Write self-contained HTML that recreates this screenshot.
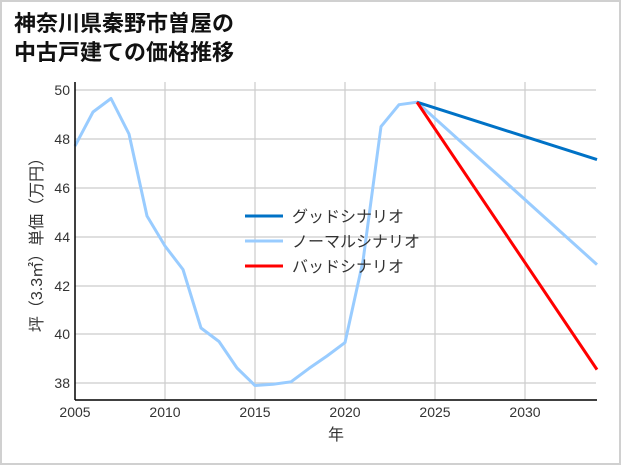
<!DOCTYPE html>
<html><head><meta charset="utf-8"><style>
html,body{margin:0;padding:0;background:#fff}
body{width:621px;height:465px;overflow:hidden}
svg text{font-family:"Liberation Sans","Noto Sans CJK JP",sans-serif}
</style></head><body>
<svg width="621" height="465" viewBox="0 0 621 465" xmlns="http://www.w3.org/2000/svg">
<rect x="1" y="1" width="619" height="463" fill="#fff" stroke="#d0d0d0" stroke-width="2"/>
<text x="14" y="31" font-size="22" font-weight="bold" fill="#111" font-family="Noto Sans CJK JP, sans-serif">神奈川県秦野市曽屋の</text>
<text x="14" y="60" font-size="22" font-weight="bold" fill="#111" font-family="Noto Sans CJK JP, sans-serif">中古戸建ての価格推移</text>
<g stroke="#cccccc" stroke-width="1.2">
<line x1="165" y1="82" x2="165" y2="400"/><line x1="255" y1="82" x2="255" y2="400"/>
<line x1="345" y1="82" x2="345" y2="400"/><line x1="435" y1="82" x2="435" y2="400"/>
<line x1="525" y1="82" x2="525" y2="400"/>
<line x1="75" y1="90" x2="596" y2="90"/><line x1="75" y1="139" x2="596" y2="139"/>
<line x1="75" y1="188" x2="596" y2="188"/><line x1="75" y1="237" x2="596" y2="237"/>
<line x1="75" y1="286" x2="596" y2="286"/><line x1="75" y1="334" x2="596" y2="334"/>
<line x1="75" y1="383" x2="596" y2="383"/>
</g>
<g fill="none" stroke-width="3" stroke-linejoin="round">
<polyline stroke="#99ccff" points="75,146 93,112 111,98.5 129,134 147,216 165,246 183,269.5 201,328 219,341.5 237,368 255,385.5 273,384.3 291,381.8 309,368.4 327,356 345,342.6 363,261 381,126.6 399,104.7 417,102.2 597,264.6"/>
<polyline stroke="#0072c6" points="417,102.2 597,159.6"/>
<polyline stroke="#ff0000" points="417,102.2 597,369.6"/>
</g>
<line x1="75" y1="82" x2="75" y2="400" stroke="#000" stroke-width="1.5"/>
<line x1="75" y1="400" x2="597" y2="400" stroke="#000" stroke-width="1.5"/>
<g font-size="14" fill="#333" text-anchor="end">
<text x="70" y="95">50</text><text x="70" y="144">48</text><text x="70" y="193">46</text>
<text x="70" y="242">44</text><text x="70" y="291">42</text><text x="70" y="339">40</text>
<text x="70" y="388">38</text>
</g>
<g font-size="14" fill="#333" text-anchor="middle">
<text x="75" y="417">2005</text><text x="165" y="417">2010</text><text x="255" y="417">2015</text>
<text x="345" y="417">2020</text><text x="435" y="417">2025</text><text x="525" y="417">2030</text>
</g>
<text x="336" y="440" font-size="16" fill="#333" text-anchor="middle" font-family="Noto Sans CJK JP, sans-serif">年</text>
<text transform="translate(42,241) rotate(-90)" font-size="16" fill="#333" text-anchor="middle" font-family="Noto Sans CJK JP, sans-serif">坪（3.3㎡）単価（万円）</text>
<g stroke-width="3">
<line x1="245" y1="216" x2="283" y2="216" stroke="#0072c6"/>
<line x1="245" y1="241" x2="283" y2="241" stroke="#99ccff"/>
<line x1="245" y1="266" x2="283" y2="266" stroke="#ff0000"/>
</g>
<g font-size="16" fill="#333" font-family="Noto Sans CJK JP, sans-serif">
<text x="292" y="222">グッドシナリオ</text>
<text x="292" y="247">ノーマルシナリオ</text>
<text x="292" y="272">バッドシナリオ</text>
</g>
</svg>
</body></html>
